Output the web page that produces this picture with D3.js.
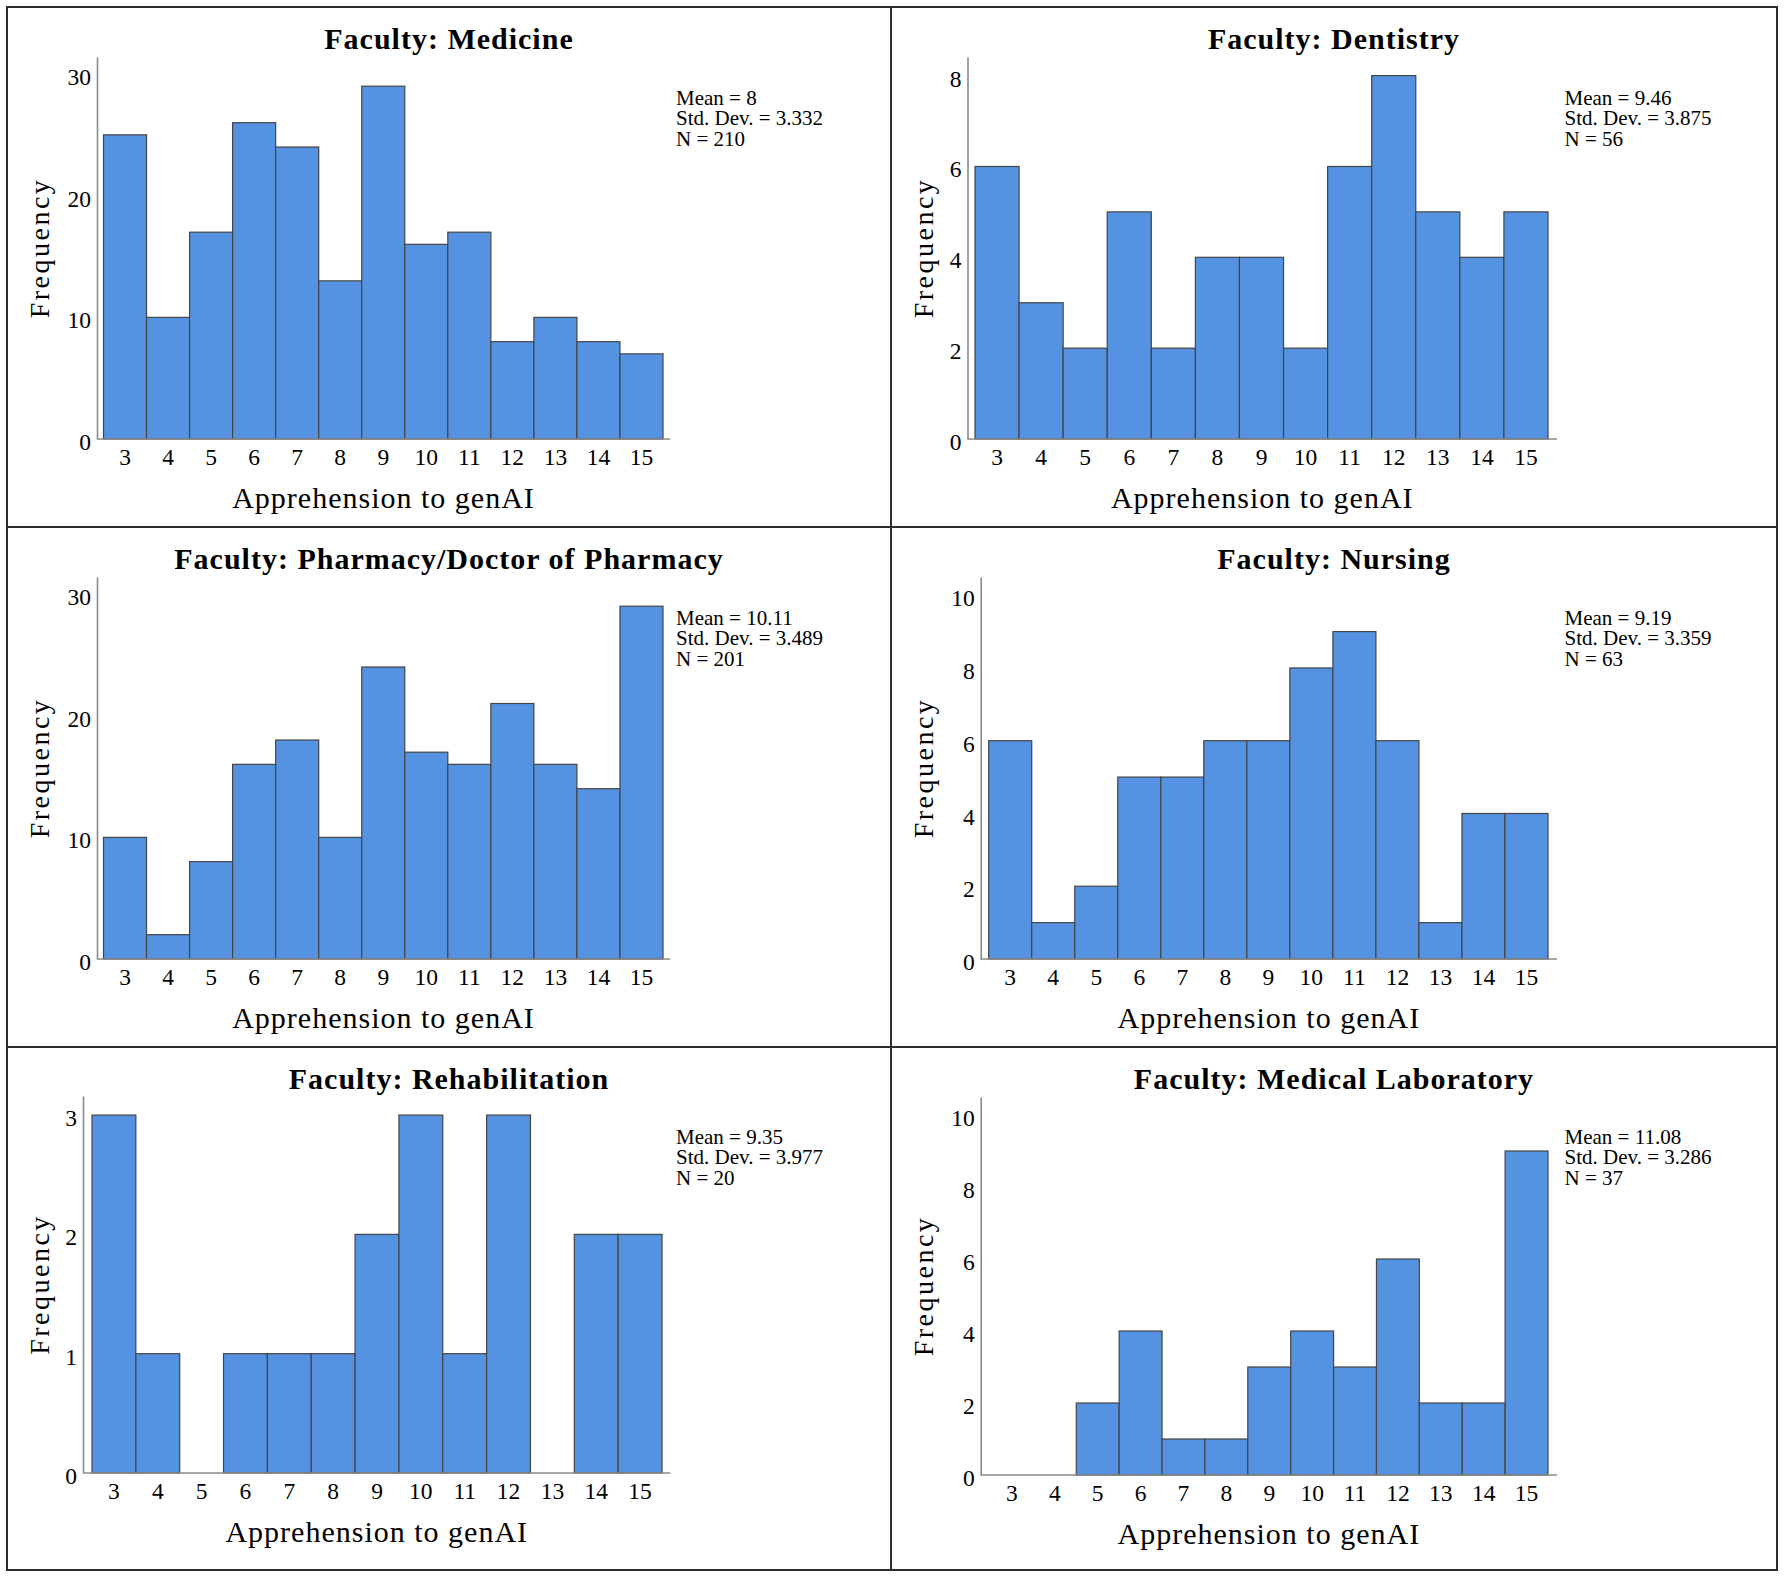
<!DOCTYPE html>
<html>
<head>
<meta charset="utf-8">
<script src="https://cdn.jsdelivr.net/npm/d3@7"></script>
<style>
  html, body { margin: 0; padding: 0; background: #fff; }
  svg text { font-family: "Liberation Serif", "Times New Roman", serif; }
</style>
</head>
<body>
<svg id="chart" width="1784" height="1577"></svg>
<script>
// ---------- DATA ----------
const categories = [3, 4, 5, 6, 7, 8, 9, 10, 11, 12, 13, 14, 15];

const medicine       = [25, 10, 17, 26, 24, 13, 29, 16, 17, 8, 10, 8, 7];
const dentistry      = [6, 3, 2, 5, 2, 4, 4, 2, 6, 8, 5, 4, 5];
const pharmacy       = [10, 2, 8, 16, 18, 10, 24, 17, 16, 21, 16, 14, 29];
const nursing        = [6, 1, 2, 5, 5, 6, 6, 8, 9, 6, 1, 4, 4];
const rehabilitation = [3, 1, 0, 1, 1, 1, 2, 3, 1, 3, 0, 2, 2];
const medicalLab     = [0, 0, 2, 4, 1, 1, 3, 4, 3, 6, 2, 2, 9];

const titles = [
  "Faculty: Medicine",
  "Faculty: Dentistry",
  "Faculty: Pharmacy/Doctor of Pharmacy",
  "Faculty: Nursing",
  "Faculty: Rehabilitation",
  "Faculty: Medical Laboratory"
];
const means   = ["8", "9.46", "10.11", "9.19", "9.35", "11.08"];
const stdDevs = ["3.332", "3.875", "3.489", "3.359", "3.977", "3.286"];
const ns      = ["210", "56", "201", "63", "20", "37"];

const yTicksMedicine  = [0, 10, 20, 30];
const yTicksDentistry = [0, 2, 4, 6, 8];
const yTicksPharmacy  = [0, 10, 20, 30];
const yTicksNursing   = [0, 2, 4, 6, 8, 10];
const yTicksRehab     = [0, 1, 2, 3];
const yTicksMedLab    = [0, 2, 4, 6, 8, 10];

const xAxisTitle = "Apprehension to genAI";
const yAxisTitle = "Frequency";

const seriesList = [medicine, dentistry, pharmacy, nursing, rehabilitation, medicalLab];
const tickList = [yTicksMedicine, yTicksDentistry, yTicksPharmacy, yTicksNursing, yTicksRehab, yTicksMedLab];

// ---------- LAYOUT ----------
const layout = [
  { x: 7,   y: 7,    w: 884, axisX: 90,   barL: 96.5, barR: 656, axisEnd: 663,   base: 432, top: 50, yMax: 31.4, statsX: 669 },
  { x: 891, y: 7,    w: 886, axisX: 76.5, barL: 84,   barR: 657, axisEnd: 666,   base: 432, top: 50, yMax: 8.41, statsX: 673.5 },
  { x: 7,   y: 527,  w: 884, axisX: 90,   barL: 96.5, barR: 656, axisEnd: 663,   base: 432, top: 50, yMax: 31.4, statsX: 669 },
  { x: 891, y: 527,  w: 886, axisX: 89.7, barL: 97.7, barR: 657, axisEnd: 666,   base: 432, top: 50, yMax: 10.5, statsX: 673.5 },
  { x: 7,   y: 1047, w: 884, axisX: 76,   barL: 85,   barR: 655, axisEnd: 663.5, base: 426, top: 49, yMax: 3.16, statsX: 669 },
  { x: 891, y: 1047, w: 886, axisX: 89.7, barL: 99.5, barR: 657, axisEnd: 666,   base: 428, top: 50, yMax: 10.5, statsX: 673.5 }
];

const BAR_FILL = "#5593E2";
const BAR_STROKE = "#444";
const AXIS_COLOR = "#8a8a8a";
const TEXT_COLOR = "#000";

const svg = d3.select("#chart");

// panel frames
const frame = svg.append("g").attr("stroke", "#2d2d2d").attr("stroke-width", 2).attr("fill", "none");
frame.append("rect").attr("x", 7).attr("y", 7).attr("width", 1770).attr("height", 1563);
frame.append("line").attr("x1", 891).attr("x2", 891).attr("y1", 7).attr("y2", 1570);
frame.append("line").attr("x1", 7).attr("x2", 1777).attr("y1", 527).attr("y2", 527);
frame.append("line").attr("x1", 7).attr("x2", 1777).attr("y1", 1047).attr("y2", 1047);

seriesList.forEach((values, i) => {
  const L = layout[i];
  const g = svg.append("g").attr("transform", `translate(${L.x},${L.y})`);

  const x = d3.scaleBand().domain(categories).range([L.barL, L.barR]).padding(0);
  const y = d3.scaleLinear().domain([0, L.yMax]).range([L.base, L.top]);

  // bars
  const rows = categories.map((c, j) => ({ c, v: values[j] })).filter(d => d.v > 0);
  g.selectAll("rect.bar").data(rows).enter().append("rect")
    .attr("class", "bar")
    .attr("x", d => x(d.c))
    .attr("y", d => y(d.v))
    .attr("width", x.bandwidth())
    .attr("height", d => y(0) - y(d.v))
    .attr("fill", BAR_FILL)
    .attr("stroke", BAR_STROKE)
    .attr("stroke-width", 1.2);

  // y axis
  const yAxis = g.append("g").attr("transform", `translate(${L.axisX},0)`)
    .call(d3.axisLeft(y).tickValues(tickList[i]).tickSize(0).tickPadding(6).tickFormat(d3.format("d")));
  yAxis.select(".domain").attr("stroke", AXIS_COLOR).attr("stroke-width", 1.6);
  yAxis.selectAll("text").attr("font-size", 23.5).attr("fill", TEXT_COLOR)
    .attr("font-family", "Liberation Serif").attr("y", 3);

  // x axis
  const xAxis = g.append("g").attr("transform", `translate(0,${L.base})`)
    .call(d3.axisBottom(x).tickSize(0).tickPadding(0));
  xAxis.select(".domain").remove();
  xAxis.selectAll("text").attr("font-size", 23.5).attr("fill", TEXT_COLOR)
    .attr("font-family", "Liberation Serif").attr("dy", null).attr("y", 26);
  g.append("line")
    .attr("x1", L.axisX).attr("x2", L.axisEnd)
    .attr("y1", L.base).attr("y2", L.base)
    .attr("stroke", AXIS_COLOR).attr("stroke-width", 1.6);

  // title
  g.append("text")
    .attr("x", L.w / 2).attr("y", 42)
    .attr("text-anchor", "middle")
    .attr("font-size", 30).attr("font-weight", "bold")
    .attr("letter-spacing", 1)
    .attr("fill", "#000")
    .text(titles[i]);

  // x title
  g.append("text")
    .attr("x", (L.axisX + L.axisEnd) / 2).attr("y", L.base + 69)
    .attr("text-anchor", "middle")
    .attr("font-size", 30).attr("letter-spacing", 1)
    .attr("fill", TEXT_COLOR)
    .text(xAxisTitle);

  // y title
  g.append("text")
    .attr("transform", `translate(42,${(L.top + L.base) / 2}) rotate(-90)`)
    .attr("text-anchor", "middle")
    .attr("font-size", 28).attr("letter-spacing", 2.5)
    .attr("fill", TEXT_COLOR)
    .text(yAxisTitle);

  // stats
  const statLines = [`Mean = ${means[i]}`, `Std. Dev. = ${stdDevs[i]}`, `N = ${ns[i]}`];
  g.selectAll("text.stat").data(statLines).enter().append("text")
    .attr("class", "stat")
    .attr("x", L.statsX)
    .attr("y", (d, k) => 97.5 + k * 20.8 - (L.y === 1047 ? 1 : 0))
    .attr("font-size", 21)
    .attr("fill", TEXT_COLOR)
    .text(d => d);
});
</script>
</body>
</html>
